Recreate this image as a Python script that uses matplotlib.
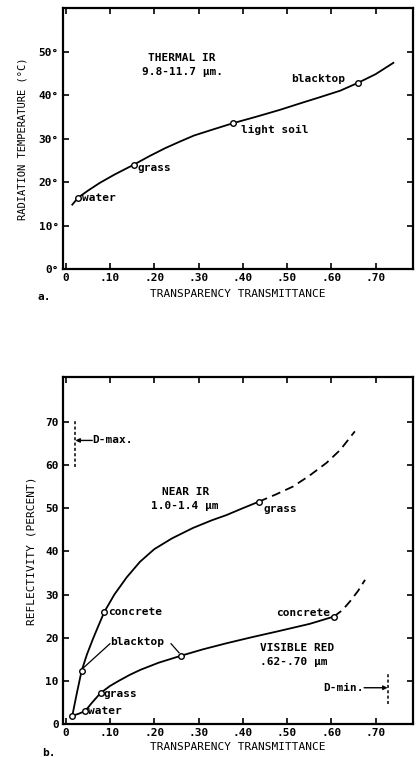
import matplotlib
matplotlib.use('Agg')
import matplotlib.pyplot as plt

plt.rcParams['font.family'] = ['DejaVu Sans Mono']
plt.rcParams['font.weight'] = 'bold'

# ---- panel a: thermal IR ----
thermal_x = [0.015, 0.028, 0.05, 0.077, 0.11, 0.154, 0.19, 0.225, 0.258, 0.29, 0.33,
             0.377, 0.43, 0.484, 0.53, 0.574, 0.62, 0.66, 0.70, 0.74]
thermal_y = [14.8, 16.4, 18.0, 19.8, 21.7, 24.0, 26.0, 27.8, 29.3, 30.7, 32.0,
             33.5, 35.0, 36.6, 38.1, 39.5, 41.0, 42.8, 44.8, 47.4]
thermal_px = [0.028, 0.154, 0.377, 0.66]
thermal_py = [16.4, 24.0, 33.5, 42.8]

# ---- panel b: near IR and visible red ----
nir_x = [0.015, 0.025, 0.036, 0.048, 0.062, 0.075, 0.087, 0.11, 0.138, 0.168, 0.20,
         0.24, 0.287, 0.33, 0.363, 0.40, 0.436]
nir_y = [1.9, 7.0, 12.3, 16.1, 19.8, 23.0, 25.9, 30.0, 34.0, 37.6, 40.5,
         43.0, 45.4, 47.2, 48.4, 50.0, 51.5]
nir_dash_x = [0.436, 0.475, 0.513, 0.55, 0.589, 0.62, 0.653]
nir_dash_y = [51.5, 53.2, 55.0, 57.5, 60.5, 63.5, 67.8]
nir_px = [0.015, 0.036, 0.087, 0.436]
nir_py = [1.9, 12.3, 25.9, 51.5]

vis_x = [0.015, 0.03, 0.044, 0.06, 0.079, 0.10, 0.12, 0.145, 0.17, 0.21, 0.26,
         0.31, 0.363, 0.42, 0.476, 0.551, 0.606]
vis_y = [1.9, 2.4, 3.0, 5.0, 7.2, 8.8, 10.0, 11.4, 12.6, 14.2, 15.8,
         17.3, 18.7, 20.1, 21.4, 23.2, 24.9]
vis_dash_x = [0.606, 0.625, 0.642, 0.66, 0.676]
vis_dash_y = [24.9, 26.4, 28.4, 30.8, 33.4]
vis_px = [0.044, 0.079, 0.26, 0.606]
vis_py = [3.0, 7.2, 15.8, 24.9]

xticks = [0, 0.1, 0.2, 0.3, 0.4, 0.5, 0.6, 0.7]
xlabels = ['0', '.10', '.20', '.30', '.40', '.50', '.60', '.70']
a_yticks = [0, 10, 20, 30, 40, 50]
a_ylabels = ['0°', '10°', '20°', '30°', '40°', '50°']
b_yticks = [0, 10, 20, 30, 40, 50, 60, 70]

fs = 8
lw = 1.3
mk = dict(marker='o', ms=4, mfc='white', mec='black', mew=1.0, ls='none', zorder=3)
dash = (0, (5, 3))

fig = plt.figure(figsize=(4.18, 7.57), dpi=100)
ax1 = fig.add_axes([0.1507, 0.6446, 0.837, 0.3448])
ax2 = fig.add_axes([0.1507, 0.0436, 0.837, 0.4584])

for ax in (ax1, ax2):
    ax.set_xlim(-0.006, 0.784)
    ax.set_xticks(xticks)
    ax.set_xticklabels(xlabels)
    ax.tick_params(direction='in', top=True, right=True, length=4, width=1.2,
                   labelsize=fs, pad=3)
    for s in ax.spines.values():
        s.set_linewidth(1.6)

# panel a
ax1.set_xlabel('TRANSPARENCY TRANSMITTANCE', fontsize=fs, labelpad=4)
ax1.set_ylim(0, 60)
ax1.set_yticks(a_yticks)
ax1.set_yticklabels(a_ylabels)
ax1.set_ylabel('RADIATION TEMPERATURE (°C)', fontsize=7.5, labelpad=8)
ax1.plot(thermal_x, thermal_y, color='black', lw=lw)
ax1.plot(thermal_px, thermal_py, **mk)
ax1.text(0.263, 48.6, 'THERMAL IR', fontsize=fs, ha='center', va='center')
ax1.text(0.263, 45.2, '9.8-11.7 µm.', fontsize=fs, ha='center', va='center')
ax1.text(0.036, 16.4, 'water', fontsize=fs, va='center')
ax1.text(0.163, 23.2, 'grass', fontsize=fs, va='center')
ax1.text(0.397, 31.9, 'light soil', fontsize=fs, va='center')
ax1.text(0.632, 43.6, 'blacktop', fontsize=fs, va='center', ha='right')
fig.text(37 / 418, 1 - 297 / 757, 'a.', fontsize=fs, va='center')

# panel b
ax2.set_xlabel('TRANSPARENCY TRANSMITTANCE', fontsize=fs, labelpad=3)
ax2.set_ylim(0, 80.4)
ax2.set_yticks(b_yticks)
ax2.set_ylabel('REFLECTIVITY (PERCENT)', fontsize=8, labelpad=6)
ax2.plot(nir_x, nir_y, color='black', lw=lw)
ax2.plot(nir_dash_x, nir_dash_y, color='black', lw=lw, ls=dash)
ax2.plot(vis_x, vis_y, color='black', lw=lw)
ax2.plot(vis_dash_x, vis_dash_y, color='black', lw=lw, ls=dash)
ax2.plot(nir_px, nir_py, **mk)
ax2.plot(vis_px, vis_py, **mk)

ax2.text(0.27, 53.8, 'NEAR IR', fontsize=fs, ha='center', va='center')
ax2.text(0.27, 50.5, '1.0-1.4 µm', fontsize=fs, ha='center', va='center')
ax2.text(0.439, 17.7, 'VISIBLE RED', fontsize=fs, va='center')
ax2.text(0.439, 14.4, '.62-.70 µm', fontsize=fs, va='center')
ax2.text(0.446, 49.8, 'grass', fontsize=fs, va='center')
ax2.text(0.095, 26.0, 'concrete', fontsize=fs, va='center')
ax2.text(0.598, 25.8, 'concrete', fontsize=fs, va='center', ha='right')
ax2.text(0.101, 18.9, 'blacktop', fontsize=fs, va='center')
ax2.plot([0.040, 0.100], [13.0, 18.6], color='black', lw=0.9)
ax2.plot([0.238, 0.256], [18.6, 16.5], color='black', lw=0.9)
ax2.text(0.086, 7.0, 'grass', fontsize=fs, va='center')
ax2.text(0.050, 3.1, 'water', fontsize=fs, va='center')

# density range markers
ax2.plot([0.021, 0.021], [59.5, 70.7], color='black', lw=1.1, ls=(0, (2, 1.5)))
ax2.annotate('', xy=(0.022, 65.7), xytext=(0.06, 65.7),
             arrowprops=dict(arrowstyle='-|>', color='black', lw=1.0,
                             mutation_scale=6, shrinkA=0, shrinkB=0))
ax2.text(0.061, 65.7, 'D-max.', fontsize=fs, va='center')
ax2.plot([0.728, 0.728], [4.7, 12.0], color='black', lw=1.1, ls=(0, (2, 1.5)))
ax2.annotate('', xy=(0.727, 8.4), xytext=(0.674, 8.4),
             arrowprops=dict(arrowstyle='-|>', color='black', lw=1.0,
                             mutation_scale=6, shrinkA=0, shrinkB=0))
ax2.text(0.672, 8.4, 'D-min.', fontsize=fs, va='center', ha='right')
fig.text(42 / 418, 1 - 753 / 757, 'b.', fontsize=fs, va='center')

fig.savefig('out.png', dpi=100)
